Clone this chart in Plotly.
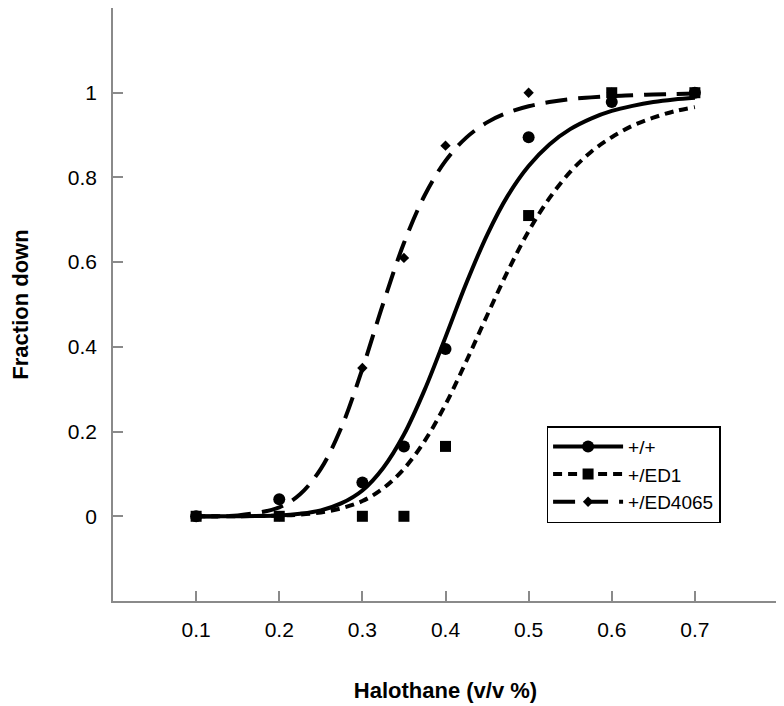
import plotly.graph_objects as go

# Observed data points
dose = [0.1, 0.2, 0.3, 0.35, 0.4, 0.5, 0.6, 0.7]
wt_obs = [0.0, 0.04, 0.08, 0.165, 0.395, 0.895, 0.978, 1.0]
ed1_obs = [0.0, 0.0, 0.0, 0.0, 0.165, 0.71, 1.0, 1.0]
ed4065_obs = [0.0, 0.0, 0.35, 0.61, 0.875, 1.0, 1.0, 1.0]

# Fitted curves
curve_x = [0.10, 0.15, 0.20, 0.225, 0.25, 0.275, 0.30, 0.325, 0.35, 0.375, 0.40,
           0.425, 0.45, 0.475, 0.50, 0.525, 0.55, 0.575, 0.60, 0.625, 0.65, 0.675, 0.70]
wt_fit = [0.000, 0.000, 0.002, 0.006, 0.014, 0.031, 0.061, 0.114, 0.193, 0.299, 0.423,
          0.550, 0.664, 0.757, 0.827, 0.878, 0.914, 0.939, 0.957, 0.969, 0.978, 0.984, 0.988]
ed1_fit = [0.000, 0.000, 0.002, 0.004, 0.009, 0.019, 0.036, 0.066, 0.112, 0.178, 0.264,
           0.366, 0.474, 0.579, 0.673, 0.751, 0.813, 0.860, 0.895, 0.922, 0.941, 0.956, 0.966]
ed4065_fit = [0.000, 0.002, 0.021, 0.052, 0.112, 0.211, 0.348, 0.502, 0.645, 0.758, 0.839,
              0.894, 0.930, 0.953, 0.968, 0.978, 0.985, 0.989, 0.992, 0.994, 0.996, 0.997, 0.998]

names = ["+/+", "+/ED1", "+/ED4065"]
x_ticks = [0, 0.1, 0.2, 0.3, 0.4, 0.5, 0.6, 0.7, 0.8]
x_ticktext = ["", "0.1", "0.2", "0.3", "0.4", "0.5", "0.6", "0.7", ""]
y_ticks = [-0.2, 0, 0.2, 0.4, 0.6, 0.8, 1.0, 1.2]
y_ticktext = ["", "0", "0.2", "0.4", "0.6", "0.8", "1", ""]

FONT = "Liberation Sans, Arial, sans-serif"
styles = [
    dict(dash="solid", symbol="circle", size=12),
    dict(dash="9px,6px", symbol="square", size=11),
    dict(dash="22px,11px", symbol="diamond", size=8),
]
fits = [wt_fit, ed1_fit, ed4065_fit]
obs = [wt_obs, ed1_obs, ed4065_obs]

fig = go.Figure()
for name, st, fy, oy in zip(names, styles, fits, obs):
    fig.add_trace(go.Scatter(x=curve_x, y=fy, mode="lines", line_shape="spline",
                             line=dict(color="black", width=4, dash=st["dash"]),
                             showlegend=False, hoverinfo="skip"))
    fig.add_trace(go.Scatter(x=dose, y=oy, mode="markers",
                             marker=dict(color="black", symbol=st["symbol"], size=st["size"]),
                             showlegend=False))
    fig.add_trace(go.Scatter(x=[None], y=[None], mode="lines+markers", name=name,
                             line=dict(color="black", width=4, dash=st["dash"]),
                             marker=dict(color="black", symbol=st["symbol"], size=st["size"])))

axis_common = dict(showline=True, linecolor="#8a8a8a", linewidth=1.5, ticks="inside",
                   ticklen=10, tickcolor="#8a8a8a", tickwidth=1.5, showgrid=False,
                   zeroline=False, tickfont=dict(family=FONT, size=21, color="black"))

fig.update_layout(
    width=776, height=698,
    margin=dict(l=105, r=6, t=0, b=105),
    paper_bgcolor="white", plot_bgcolor="white",
    xaxis=dict(range=[0, 0.8], tickvals=x_ticks, ticktext=x_ticktext,
               ticklabelstandoff=9,
               title=dict(text="<b>Halothane (v/v %)</b>", standoff=43,
                          font=dict(family=FONT, size=22, color="black")),
               **axis_common),
    yaxis=dict(range=[-0.2, 1.2], tickvals=y_ticks, ticktext=y_ticktext,
               ticklabelstandoff=10,
               title=dict(text="<b>Fraction down</b>", standoff=40,
                          font=dict(family=FONT, size=22, color="black")),
               **axis_common),
    legend=dict(x=0.652, y=0.295, xanchor="left", yanchor="top",
                bordercolor="black", borderwidth=1.5, bgcolor="white",
                font=dict(family=FONT, size=19, color="black"),
                itemwidth=70, entrywidth=110, tracegroupgap=0),
    showlegend=True,
)

fig.write_html("out.html")
